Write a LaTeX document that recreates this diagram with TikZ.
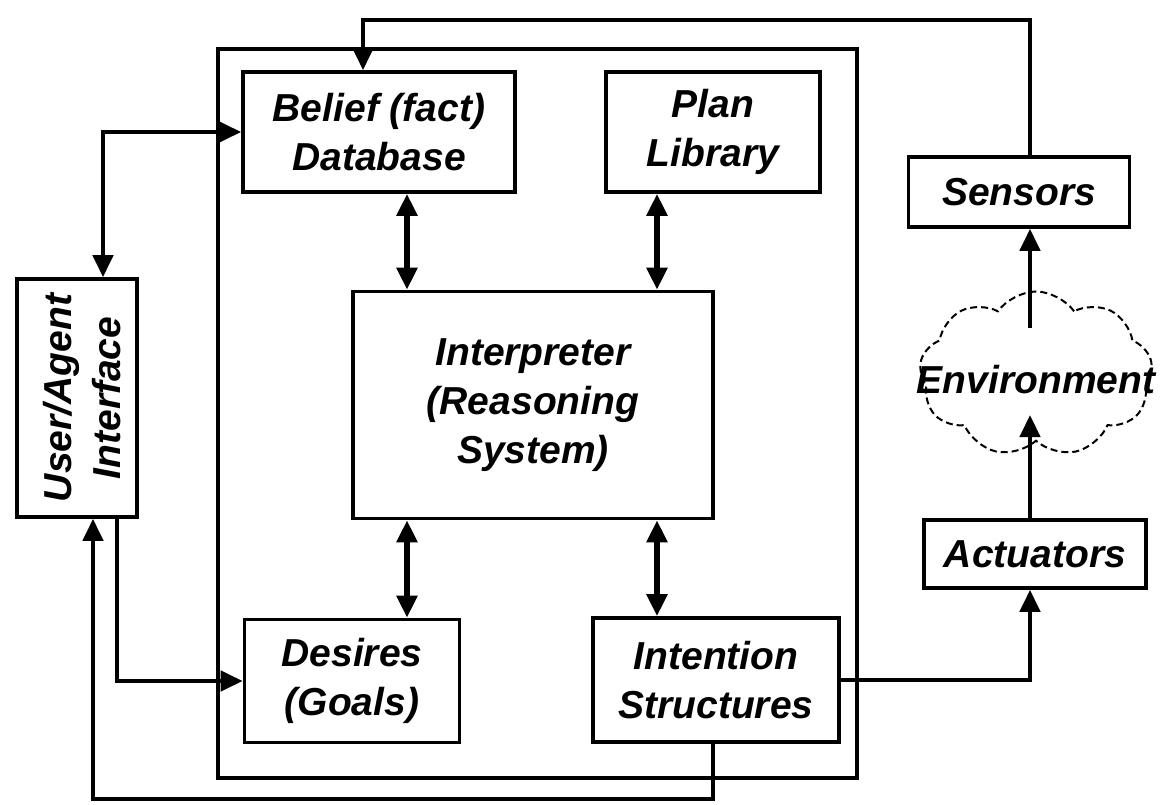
\documentclass[tikz,border=0pt]{standalone}
\usepackage{fontspec}
\setmainfont{Liberation Sans}
\usetikzlibrary{arrows.meta, shapes.symbols, positioning}

\newcommand\boxfont{\fontsize{39}{49}\selectfont\bfseries\itshape}

\begin{document}
\begin{tikzpicture}[x=1pt, y=-1pt,
    box/.style={draw, line width=3.6pt, inner sep=0pt, align=center, font=\boxfont},
    link/.style={line width=4.5pt, -{Triangle[length=22pt,width=20pt]}},
    twoway/.style={line width=5.5pt, {Triangle[length=22pt,width=20pt]}-{Triangle[length=22pt,width=20pt]}}]

    \useasboundingbox (0,0) rectangle (1160,805);

    % Agent frame
    \draw[line width=3.6pt] (218,49) rectangle (857,778);

    % Define nodes
    \node[box, minimum width=272pt, minimum height=120pt] (belief) at (379,132) {Belief (fact)\\Database};
    \node[box, minimum width=214pt, minimum height=120pt] (plan) at (713,132) {Plan\\Library};
    \node[box, minimum width=360pt, minimum height=227pt] (interp) at (533,405) {Interpreter\\(Reasoning\\System)};
    \node[box, minimum width=215pt, minimum height=123pt] (desires) at (352,681) {Desires\\(Goals)};
    \node[box, minimum width=246pt, minimum height=124pt] (intent) at (716,680) {Intention\\Structures};
    \node[box, minimum width=120pt, minimum height=238pt] (ui) at (77,398) {};
    \node[rotate=90, align=center, font=\boxfont] (uitext) at (82,398) {User/Agent\\Interface};
    \node[box, minimum width=221pt, minimum height=70pt] (sensors) at (1019,192) {Sensors};
    \node[box, minimum width=222pt, minimum height=68pt] (actuators) at (1035,554) {Actuators};
    \node[cloud, draw, cloud puffs=9, cloud puff arc=110, cloud ignores aspect,
          line width=2pt, dash pattern=on 7pt off 4pt,
          minimum width=233pt, minimum height=165pt] (env) at (1036,374) {};
    \node[font=\boxfont, inner sep=0pt] (envtext) at (1036,380) {Environment};

    % Lanes and corners
    \coordinate (lane1) at (407,0);
    \coordinate (lane2) at (657,0);
    \coordinate (lane3) at (713,0);
    \coordinate (envin) at (1030,415);
    \coordinate (envout) at (1030,328);
    \coordinate (topleft) at (363,20);
    \coordinate (uitop) at (103,132);
    \coordinate (uidown) at (117,681);
    \coordinate (bottom) at (93,799);

    % Draw edges
    \draw[twoway] (belief.south -| lane1) -- (interp.north -| lane1);
    \draw[twoway] (plan.south -| lane2) -- (interp.north -| lane2);
    \draw[twoway] (interp.south -| lane1) -- (desires.north -| lane1);
    \draw[twoway] (interp.south -| lane2) -- (intent.north -| lane2);

    \draw[link, {Triangle[length=22pt,width=20pt]}-{Triangle[length=22pt,width=20pt]}]
        (ui.north -| uitop) -- (uitop) -- (belief.west);
    \draw[link] (ui.south -| uidown) -- (uidown) -- (desires.west);
    \draw[link] (intent.south -| lane3) |- (bottom) -- (ui.south -| bottom);

    \draw[link] (intent.east) -| (actuators.south -| envin);
    \draw[link] (actuators.north -| envin) -- (envin);
    \draw[link] (envout) -- (sensors.south -| envout);
    \draw[link] (sensors.north -| envout) |- (topleft) -- (belief.north -| topleft);

\end{tikzpicture}
\end{document}
